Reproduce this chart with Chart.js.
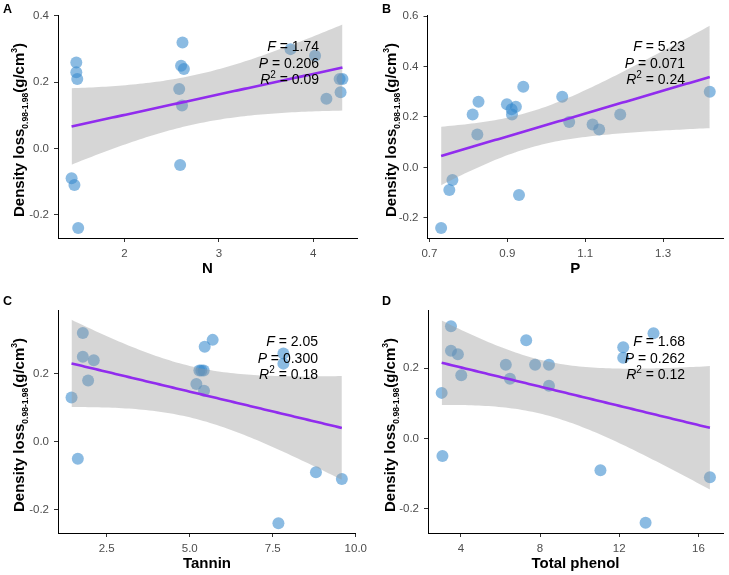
<!DOCTYPE html>
<html>
<head>
<meta charset="utf-8">
<script src="https://cdn.jsdelivr.net/npm/chart.js@4/dist/chart.umd.min.js"></script>
<style>
  html, body { margin: 0; padding: 0; background: #fff; }
  #wrap { position: relative; width: 729px; height: 575px; overflow: hidden; }
  canvas { position: absolute; }
</style>
</head>
<body>
<div id="wrap">
  <canvas id="chartA"></canvas>
  <canvas id="chartB"></canvas>
  <canvas id="chartC"></canvas>
  <canvas id="chartD"></canvas>
</div>
<script>
// ---- data ----
const xN = [1.49, 1.49, 1.50, 1.44, 1.47, 1.51, 2.615, 2.60, 2.63, 2.58, 2.61, 2.59, 3.76, 4.02, 4.14, 4.28, 4.31, 4.29];
const yN = [0.26, 0.23, 0.21, -0.09, -0.11, -0.24, 0.32, 0.25, 0.24, 0.18, 0.13, -0.05, 0.30, 0.28, 0.15, 0.21, 0.21, 0.17];

const xP = [0.73, 0.751, 0.759, 0.930, 0.823, 0.811, 0.826, 0.899, 0.912, 0.911, 0.922, 0.941, 1.041, 1.059, 1.119, 1.136, 1.19, 1.42];
const yP = [-0.24, -0.09, -0.05, -0.11, 0.13, 0.21, 0.26, 0.25, 0.21, 0.23, 0.24, 0.32, 0.28, 0.18, 0.17, 0.15, 0.21, 0.30];

const xTannin = [1.44, 1.78, 1.78, 2.11, 1.94, 1.63, 5.69, 5.45, 5.29, 5.42, 5.35, 5.20, 5.43, 7.82, 7.82, 7.67, 8.80, 9.58];
const yTannin = [0.13, 0.32, 0.25, 0.24, 0.18, -0.05, 0.30, 0.28, 0.21, 0.21, 0.21, 0.17, 0.15, 0.26, 0.23, -0.24, -0.09, -0.11];

const xPhenol = [3.5, 3.5, 3.85, 4.02, 3.03, 3.07, 6.27, 6.48, 7.30, 7.75, 8.45, 8.45, 12.2, 12.2, 13.73, 11.05, 13.33, 16.58];
const yPhenol = [0.32, 0.25, 0.24, 0.18, 0.13, -0.05, 0.21, 0.17, 0.28, 0.21, 0.21, 0.15, 0.26, 0.23, 0.30, -0.09, -0.24, -0.11];

const xTitles = ['N', 'P', 'Tannin', 'Total phenol'];
const panelLetters = ['A', 'B', 'C', 'D'];
const statF = ['1.74', '5.23', '2.05', '1.68'];
const statP = ['0.206', '0.071', '0.300', '0.262'];
const statR2 = ['0.09', '0.24', '0.18', '0.12'];

const xTicksN = [2, 3, 4];
const xTicksP = [0.7, 0.9, 1.1, 1.3];
const xTicksTannin = [2.5, 5.0, 7.5, 10.0];
const xTicksPhenol = [4, 8, 12, 16];
const yTicksA = [-0.2, 0.0, 0.2, 0.4];
const yTicksB = [-0.2, 0.0, 0.2, 0.4, 0.6];
const yTicksCD = [-0.2, 0.0, 0.2];

// ---- layout (page pixels) ----
const panels = [
  { id: 'chartA', xs: xN, ys: yN, xTicks: xTicksN, xDec: 0, yTicks: yTicksA,
    xMin: 1.296, xMax: 4.464, yMin: -0.270, yMax: 0.403,
    canvas: { l: 0, t: 0, w: 372, h: 287 }, plot: { l: 58, r: 357, t: 15, b: 238 },
    xTitleY: 269.3, yTitle: { x: 20, y: 130 }, letter: { x: 3, y: 13.3 } },
  { id: 'chartB', xs: xP, ys: yP, xTicks: xTicksP, xDec: 1, yTicks: yTicksB,
    xMin: 0.695, xMax: 1.454, yMin: -0.280, yMax: 0.604,
    canvas: { l: 364, t: 0, w: 365, h: 287 }, plot: { l: 427.5, r: 726, t: 15, b: 238 },
    xTitleY: 268.5, yTitle: { x: 392, y: 130 }, letter: { x: 382, y: 13.3 } },
  { id: 'chartC', xs: xTannin, ys: yTannin, xTicks: xTicksTannin, xDec: 1, yTicks: yTicksCD,
    xMin: 1.033, xMax: 10.005, yMin: -0.269, yMax: 0.388,
    canvas: { l: 0, t: 287, w: 372, h: 288 }, plot: { l: 58, r: 356, t: 310, b: 533 },
    xTitleY: 564.3, yTitle: { x: 20, y: 425 }, letter: { x: 3, y: 304.5 } },
  { id: 'chartD', xs: xPhenol, ys: yPhenol, xTicks: xTicksPhenol, xDec: 0, yTicks: yTicksCD,
    xMin: 2.34, xMax: 17.24, yMin: -0.269, yMax: 0.366,
    canvas: { l: 364, t: 287, w: 365, h: 288 }, plot: { l: 428, r: 726, t: 310, b: 533 },
    xTitleY: 564.3, yTitle: { x: 391, y: 425 }, letter: { x: 382, y: 304.5 } }
];

const FONT = "'Liberation Sans', Arial, Helvetica, sans-serif";
const T_975 = 2.1199; // t quantile, df = 18 - 2

// least squares line + 95% confidence band, like geom_smooth(method = "lm")
function lmFit(xs, ys, steps) {
  const n = xs.length;
  const mx = xs.reduce((a, b) => a + b, 0) / n;
  const my = ys.reduce((a, b) => a + b, 0) / n;
  let sxx = 0, sxy = 0;
  for (let i = 0; i < n; i++) {
    sxx += (xs[i] - mx) * (xs[i] - mx);
    sxy += (xs[i] - mx) * (ys[i] - my);
  }
  const slope = sxy / sxx;
  const icpt = my - slope * mx;
  let rss = 0;
  for (let i = 0; i < n; i++) {
    const r = ys[i] - (icpt + slope * xs[i]);
    rss += r * r;
  }
  const s = Math.sqrt(rss / (n - 2));
  const lo = Math.min(...xs), hi = Math.max(...xs);
  const fit = [], upper = [], lower = [];
  for (let k = 0; k <= steps; k++) {
    const x = lo + (hi - lo) * k / steps;
    const yhat = icpt + slope * x;
    const se = s * Math.sqrt(1 / n + (x - mx) * (x - mx) / sxx);
    fit.push({ x: x, y: yhat });
    upper.push({ x: x, y: yhat + T_975 * se });
    lower.push({ x: x, y: yhat - T_975 * se });
  }
  return { fit, upper, lower };
}

function drawSegments(ctx, segs, xStart, y) {
  let x = xStart;
  segs.forEach(sg => {
    ctx.font = sg.font;
    ctx.fillText(sg.text, x, y + (sg.dy || 0));
    x += ctx.measureText(sg.text).width;
  });
}
function segWidth(ctx, segs) {
  let w = 0;
  segs.forEach(sg => { ctx.font = sg.font; w += ctx.measureText(sg.text).width; });
  return w;
}

const panelText = {
  id: 'panelText',
  afterDraw(chart, args, opts) {
    const ctx = chart.ctx;
    const p = opts.panel, i = opts.index;
    const ox = p.canvas.l, oy = p.canvas.t;
    ctx.save();
    ctx.fillStyle = '#000';
    ctx.textAlign = 'left';

    // panel letter
    ctx.textBaseline = 'alphabetic';
    ctx.font = 'bold 12.5px ' + FONT;
    ctx.fillText(panelLetters[i], p.letter.x - ox, p.letter.y - oy);

    // statistics, right aligned
    ctx.textBaseline = 'middle';
    const reg = '14px ' + FONT, ital = 'italic 14px ' + FONT, small = '10px ' + FONT;
    const lines = [
      [{ text: 'F', font: ital }, { text: ' = ' + statF[i], font: reg }],
      [{ text: 'P', font: ital }, { text: ' = ' + statP[i], font: reg }],
      [{ text: 'R', font: ital }, { text: '2', font: small, dy: -5 }, { text: ' = ' + statR2[i], font: reg }]
    ];
    const right = chart.chartArea.right - 38;
    lines.forEach((segs, k) => {
      const y = chart.chartArea.top + 32 + k * 16.7;
      drawSegments(ctx, segs, right - segWidth(ctx, segs), y);
    });

    // y axis title with subscript and superscript
    const big = 'bold 15px ' + FONT, sub = 'bold 8.5px ' + FONT;
    const title = [
      { text: 'Density loss', font: big },
      { text: '0.98-1.98', font: sub, dy: 6 },
      { text: '(g/cm', font: big },
      { text: '3', font: sub, dy: -5 },
      { text: ')', font: big }
    ];
    ctx.translate(p.yTitle.x - ox, p.yTitle.y - oy);
    ctx.rotate(-Math.PI / 2);
    drawSegments(ctx, title, -segWidth(ctx, title) / 2, 0);
    ctx.restore();
  }
};

panels.forEach((p, i) => {
  const cv = document.getElementById(p.id);
  cv.width = p.canvas.w;
  cv.height = p.canvas.h;
  cv.style.left = p.canvas.l + 'px';
  cv.style.top = p.canvas.t + 'px';
  cv.style.width = p.canvas.w + 'px';
  cv.style.height = p.canvas.h + 'px';

  const band = lmFit(p.xs, p.ys, 80);
  const pts = p.xs.map((x, k) => ({ x: x, y: p.ys[k] }));
  const yAxisW = p.plot.l - p.canvas.l;
  const xAxisH = p.canvas.t + p.canvas.h - p.plot.b;
  const tickFont = { family: FONT, size: 11.5 };

  new Chart(cv, {
    type: 'scatter',
    data: {
      datasets: [
        { type: 'line', data: band.fit, borderColor: '#912CEE', borderWidth: 2.6,
          pointRadius: 0, fill: false, tension: 0 },
        { type: 'line', data: band.upper, borderWidth: 0, borderColor: 'rgba(0,0,0,0)',
          backgroundColor: 'rgba(153,153,153,0.4)', pointRadius: 0, fill: '+1', tension: 0 },
        { type: 'line', data: band.lower, borderWidth: 0, borderColor: 'rgba(0,0,0,0)',
          pointRadius: 0, fill: false, tension: 0 },
        { type: 'scatter', data: pts, pointRadius: 6, pointBorderWidth: 0,
          backgroundColor: 'rgba(55,138,205,0.58)', borderColor: 'rgba(0,0,0,0)' }
      ]
    },
    options: {
      responsive: false,
      animation: false,
      events: [],
      layout: {
        padding: { left: 0, bottom: 0, top: p.plot.t - p.canvas.t,
                   right: p.canvas.l + p.canvas.w - p.plot.r }
      },
      plugins: {
        legend: { display: false },
        tooltip: { enabled: false },
        panelText: { panel: p, index: i }
      },
      scales: {
        x: {
          type: 'linear', min: p.xMin, max: p.xMax,
          afterFit(s) { s.height = xAxisH; },
          afterBuildTicks(s) { s.ticks = p.xTicks.map(v => ({ value: v })); },
          border: { display: true, color: '#000', width: 1 },
          grid: { display: true, drawOnChartArea: false, drawTicks: true,
                  tickLength: 4, tickColor: '#333', tickWidth: 1 },
          ticks: { font: tickFont, color: '#4D4D4D', padding: 5, maxRotation: 0,
                   callback: v => Number(v).toFixed(p.xDec) },
          title: { display: true, text: xTitles[i], color: '#000',
                   font: { family: FONT, size: 15, weight: 'bold', lineHeight: 1.2 },
                   padding: { top: 0, bottom: p.canvas.t + p.canvas.h - p.xTitleY - 9 } }
        },
        y: {
          type: 'linear', min: p.yMin, max: p.yMax,
          afterFit(s) { s.width = yAxisW; },
          afterBuildTicks(s) { s.ticks = p.yTicks.map(v => ({ value: v })); },
          border: { display: true, color: '#000', width: 1 },
          grid: { display: true, drawOnChartArea: false, drawTicks: true,
                  tickLength: 4, tickColor: '#333', tickWidth: 1 },
          ticks: { font: tickFont, color: '#4D4D4D', padding: 5,
                   callback: v => Number(v).toFixed(1) }
        }
      }
    },
    plugins: [panelText]
  });
});
</script>
</body>
</html>
